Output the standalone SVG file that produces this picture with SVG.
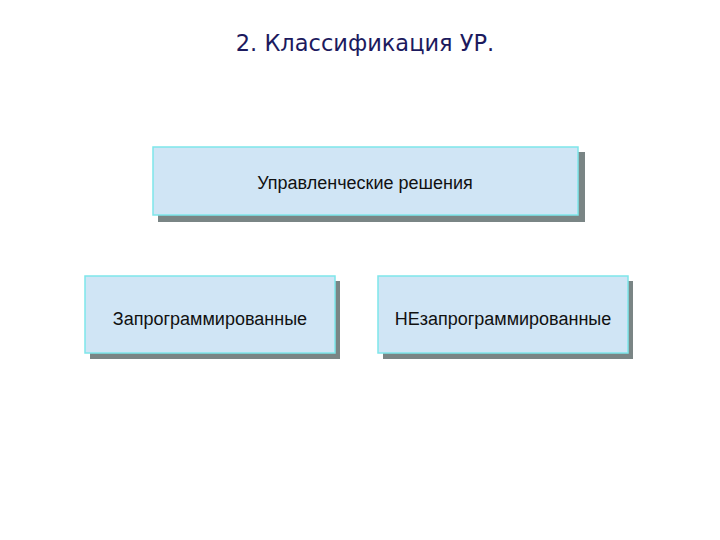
<svg xmlns="http://www.w3.org/2000/svg" width="720" height="540" viewBox="0 0 720 540">
<style>
.shadow{fill:#7a8585}
.box{fill:#d0e5f5;stroke:#7ee6ea;stroke-width:1.5}
.lbl{font-family:"Liberation Sans",Arial,sans-serif;font-size:18px;fill:#111;text-anchor:middle}
.title{font-family:"DejaVu Sans",Verdana,sans-serif;font-size:22.5px;fill:#1c1a5e;text-anchor:middle}
</style>
<rect width="720" height="540" fill="#fff"/>
<text class="title" x="365" y="51">2. Классификация УР.</text>
<g id="root">
<rect class="shadow" x="158" y="152" width="427" height="70"/>
<rect class="box" x="153" y="147" width="425" height="68"/>
<text class="lbl" x="365" y="189">Управленческие решения</text>
</g>
<g id="programmed">
<rect class="shadow" x="90" y="281" width="250" height="78"/>
<rect class="box" x="85" y="276" width="250" height="77"/>
<text class="lbl" x="210" y="325">Запрограммированные</text>
</g>
<g id="nonprogrammed">
<rect class="shadow" x="383" y="281" width="250" height="78"/>
<rect class="box" x="378" y="276" width="250" height="77"/>
<text class="lbl" x="503" y="325">НЕзапрограммированные</text>
</g>
<g id="connectors"></g>
</svg>
